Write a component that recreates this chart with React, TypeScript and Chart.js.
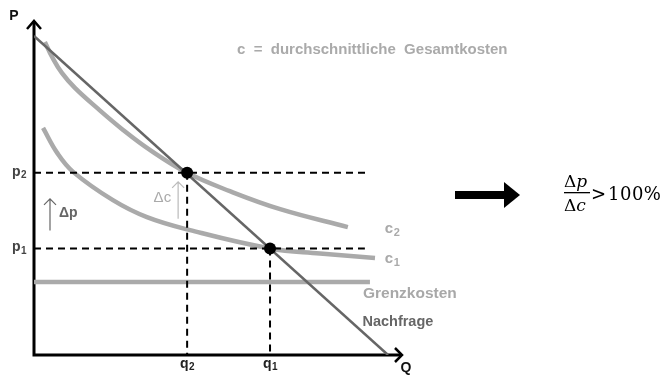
import React, { useEffect, useRef } from "react";
import { Chart, registerables } from "chart.js";

Chart.register(...registerables);

// ---- data (Q on x, P on y) ----
const demandQ = [0, 9.78];
const demandP = [9.58, 0];

const c2Q = [0.3, 0.5, 0.77, 1.13, 1.74, 2.46, 3.2, 4.23, 5.41, 6.8, 8.67];
const c2P = [9.4, 8.95, 8.47, 8.02, 7.42, 6.76, 6.16, 5.47, 4.92, 4.38, 3.84];

const c1Q = [0.25, 0.64, 1.08, 2.18, 3.12, 4.31, 6.52, 7.9, 9.42];
const c1P = [6.82, 6.07, 5.5, 4.65, 4.14, 3.75, 3.2, 3.05, 2.91];

const mcQ = [0, 9.28];
const mcP = [2.19, 2.19];

const eqQ = [4.23, 6.52]; // q2, q1
const eqP = [5.47, 3.2]; // p2, p1
const eqLabels = ["2", "1"];
const dashEndQ = [9.28, 9.14];

const axisMax = 10;

const zip = (xs: number[], ys: number[]) => xs.map((x, i) => ({ x, y: ys[i] }));

const SANS = '"Liberation Sans", Arial, sans-serif';
const SERIF = '"DejaVu Serif", "Liberation Serif", serif';

function subText(
  ctx: CanvasRenderingContext2D,
  main: string,
  sub: string,
  x: number,
  y: number,
  size: number,
  color: string,
  align: "left" | "center" = "left"
) {
  ctx.save();
  ctx.fillStyle = color;
  ctx.textBaseline = "middle";
  ctx.textAlign = "left";
  ctx.font = `bold ${size}px ${SANS}`;
  const w1 = ctx.measureText(main).width;
  ctx.font = `bold ${Math.round(size * 0.72)}px ${SANS}`;
  const w2 = ctx.measureText(sub).width;
  const sx = align === "center" ? x - (w1 + w2) / 2 : x;
  ctx.font = `bold ${size}px ${SANS}`;
  ctx.fillText(main, sx, y);
  ctx.font = `bold ${Math.round(size * 0.72)}px ${SANS}`;
  ctx.fillText(sub, sx + w1 + 0.5, y + size * 0.25);
  ctx.restore();
}

function arrowUp(ctx: CanvasRenderingContext2D, x: number, y1: number, y2: number, color: string) {
  ctx.save();
  ctx.strokeStyle = color;
  ctx.lineWidth = 1.2;
  ctx.beginPath();
  ctx.moveTo(x, y1);
  ctx.lineTo(x, y2);
  ctx.moveTo(x - 6, y2 + 6);
  ctx.lineTo(x, y2);
  ctx.lineTo(x + 6, y2 + 6);
  ctx.stroke();
  ctx.restore();
}

const decoPlugin = {
  id: "deco",
  beforeDatasetsDraw(chart: any) {
    const { ctx, chartArea } = chart;
    const { left, bottom, top, right } = chartArea;
    ctx.save();
    ctx.strokeStyle = "#000";
    ctx.lineWidth = 3;
    ctx.lineCap = "butt";
    ctx.beginPath();
    ctx.moveTo(left, bottom);
    ctx.lineTo(left, top - 1);
    ctx.moveTo(left - 1.5, bottom);
    ctx.lineTo(right + 5, bottom);
    ctx.stroke();
    ctx.lineWidth = 2.5;
    ctx.beginPath();
    ctx.moveTo(left - 7, top + 7);
    ctx.lineTo(left, top - 1);
    ctx.lineTo(left + 7, top + 7);
    ctx.moveTo(right - 1, bottom - 7);
    ctx.lineTo(right + 6, bottom);
    ctx.lineTo(right - 1, bottom + 7);
    ctx.stroke();
    ctx.restore();
  },
  afterDatasetsDraw(chart: any) {
    const { ctx, chartArea, scales } = chart;
    const xs = scales.x;
    const ys = scales.y;
    const { left, bottom, top, right } = chartArea;

    ctx.save();
    ctx.textBaseline = "middle";
    // axis labels
    ctx.fillStyle = "#111";
    ctx.font = `bold 14px ${SANS}`;
    ctx.textAlign = "center";
    ctx.fillText("P", left - 20, top - 6);
    ctx.fillText("Q", right + 10, bottom + 13);

    // p / q labels
    for (let i = 0; i < eqQ.length; i++) {
      subText(ctx, "q", eqLabels[i], xs.getPixelForValue(eqQ[i]), bottom + 9, 14, "#222", "center");
      subText(ctx, "p", eqLabels[i], left - 22, ys.getPixelForValue(eqP[i]) - 1, 14, "#444");
    }

    // curve labels
    const c2End = c2Q.length - 1;
    const c1End = c1Q.length - 1;
    subText(ctx, "c", "2", xs.getPixelForValue(c2Q[c2End]) + 37, ys.getPixelForValue(c2P[c2End]) + 2, 15, "#aaa");
    subText(ctx, "c", "1", xs.getPixelForValue(c2Q[c2End]) + 37, ys.getPixelForValue(c1P[c1End]) + 1, 15, "#aaa");

    ctx.textAlign = "left";
    ctx.fillStyle = "#a8a8a8";
    ctx.font = `bold 15.5px ${SANS}`;
    ctx.fillText("Grenzkosten", xs.getPixelForValue(mcQ[1]) - 7, ys.getPixelForValue(mcP[1]) + 12);
    ctx.fillStyle = "#666";
    ctx.font = `bold 14.5px ${SANS}`;
    ctx.fillText("Nachfrage", xs.getPixelForValue(9.1) - 1, bottom - 33);

    ctx.fillStyle = "#aaa";
    ctx.font = `bold 15px ${SANS}`;
    ctx.fillText("c  =  durchschnittliche  Gesamtkosten", left + 203, top + 28);

    // delta annotations
    const yp2 = ys.getPixelForValue(eqP[0]);
    const yp1 = ys.getPixelForValue(eqP[1]);
    arrowUp(ctx, left + 16, yp1 - 18, yp2 + 26, "#666");
    ctx.fillStyle = "#666";
    ctx.font = `bold 14px ${SANS}`;
    ctx.fillText("Δp", left + 25, (yp1 + yp2) / 2 + 2);
    const xq2 = xs.getPixelForValue(eqQ[0]);
    arrowUp(ctx, xq2 - 9, yp2 + 46, yp2 + 9, "#bbb");
    ctx.fillStyle = "#aaa";
    ctx.font = `15px ${SANS}`;
    ctx.textAlign = "right";
    ctx.fillText("Δc", xq2 - 16, yp2 + 25);

    // big arrow
    const ay = 195;
    ctx.fillStyle = "#000";
    ctx.fillRect(455, ay - 4, 52, 8);
    ctx.beginPath();
    ctx.moveTo(504, ay - 13);
    ctx.lineTo(520, ay);
    ctx.lineTo(504, ay + 13);
    ctx.closePath();
    ctx.fill();

    // formula
    ctx.fillStyle = "#000";
    ctx.textAlign = "left";
    ctx.textBaseline = "alphabetic";
    const fx = 564;
    ctx.font = `17px ${SERIF}`;
    const dW = ctx.measureText("Δ").width;
    ctx.fillText("Δ", fx, 187);
    ctx.font = `italic 17px ${SERIF}`;
    ctx.fillText("p", fx + dW, 187);
    ctx.font = `17px ${SERIF}`;
    ctx.fillText("Δ", fx, 211);
    ctx.font = `italic 17px ${SERIF}`;
    ctx.fillText("c", fx + dW, 211);
    ctx.fillRect(fx, 192, 26, 1.3);
    ctx.font = `18px ${SERIF}`;
    ctx.fillText(">", fx + 27, 200);
    (ctx as any).letterSpacing = "0.5px";
    ctx.fillText("100%", fx + 44, 200);
    ctx.restore();
  },
};

export default function App() {
  const ref = useRef<HTMLCanvasElement | null>(null);
  useEffect(() => {
    document.body.style.margin = "0";
    const canvas = ref.current;
    if (!canvas) return;
    const line = (data: any[], color: string, width: number, extra: any = {}) => ({
      data,
      showLine: true,
      borderColor: color,
      borderWidth: width,
      pointRadius: 0,
      fill: false,
      order: 5,
      ...extra,
    });
    const dash = { borderDash: [7, 5], order: 4 };
    const chart = new Chart(canvas, {
      type: "scatter",
      data: {
        datasets: [
          line(zip(eqQ, eqP), "#000", 0, {
            showLine: false,
            pointRadius: 6,
            pointBackgroundColor: "#000",
            pointBorderWidth: 0,
            order: 0,
          }),
          line(zip(demandQ, demandP), "#666", 2.5, { order: 1 }),
          line(zip(c2Q, c2P), "#aaa", 4.5, { tension: 0.4 }),
          line(zip(c1Q, c1P), "#aaa", 4.5, { tension: 0.4 }),
          line(zip(mcQ, mcP), "#aaa", 4.5),
          line([{ x: 0, y: eqP[0] }, { x: dashEndQ[0], y: eqP[0] }], "#000", 2, dash),
          line([{ x: 0, y: eqP[1] }, { x: dashEndQ[1], y: eqP[1] }], "#000", 2, dash),
          line([{ x: eqQ[0], y: eqP[0] }, { x: eqQ[0], y: 0 }], "#000", 2, dash),
          line([{ x: eqQ[1], y: eqP[1] }, { x: eqQ[1], y: 0 }], "#000", 2, dash),
        ],
      },
      options: {
        responsive: false,
        animation: false,
        layout: { padding: { left: 34, top: 22, right: 270, bottom: 21 } },
        scales: {
          x: { type: "linear", min: 0, max: axisMax, display: false },
          y: { type: "linear", min: 0, max: axisMax, display: false },
        },
        plugins: { legend: { display: false }, tooltip: { enabled: false } },
        elements: { line: { borderCapStyle: "butt" } },
      } as any,
      plugins: [decoPlugin],
    });
    return () => chart.destroy();
  }, []);
  return (
    <div style={{ position: "absolute", left: 0, top: 0, width: 666, height: 376, background: "#fff" }}>
      <canvas ref={ref} width={666} height={376} />
    </div>
  );
}
